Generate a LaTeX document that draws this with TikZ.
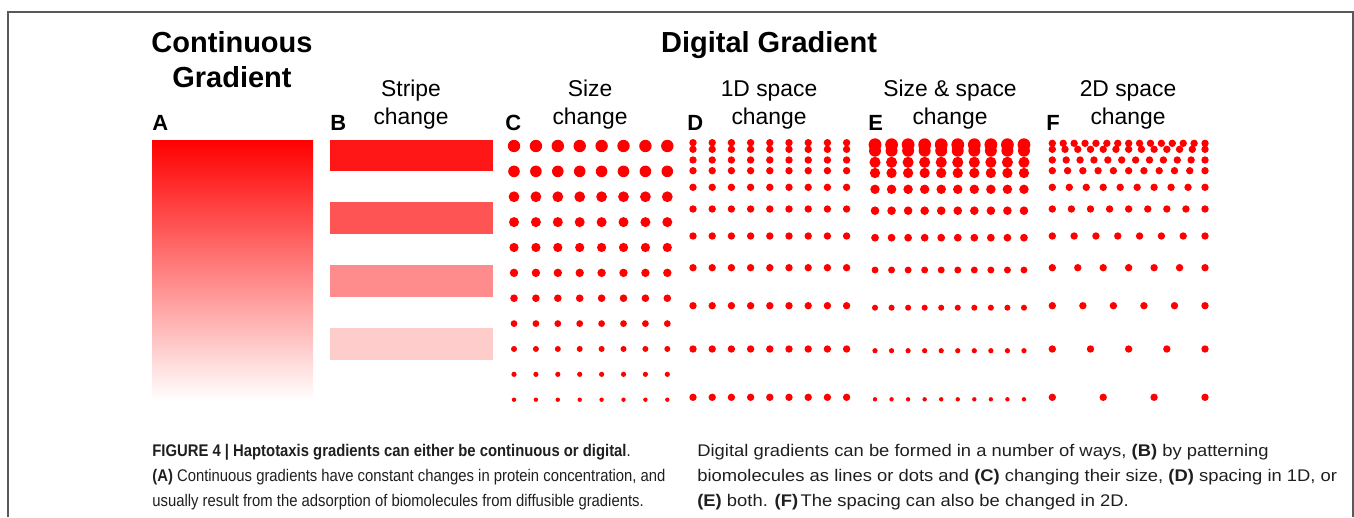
\documentclass[tikz,border=0pt]{standalone}
\usepackage{fontspec}
\setmainfont{Liberation Sans}
\newfontfamily\leftfont[FakeStretch=0.88]{Liberation Sans}
\newfontfamily\rightfont[FakeStretch=1.09]{Liberation Sans}
\usepackage{tikz}
\usetikzlibrary{positioning}

\begin{document}
\begin{tikzpicture}[x=0.02cm, y=-0.02cm,
	title/.style={font=\fontsize{16.5}{20}\selectfont\bfseries, anchor=base},
	sub/.style={font=\fontsize{13}{16}\selectfont, anchor=base},
	letter/.style={font=\fontsize{12.5}{15}\selectfont\bfseries, anchor=base west, inner sep=0pt},
	capl/.style={font=\fontsize{9.6}{10}\leftfont, text=black!88, anchor=base west, inner sep=0pt},
	capr/.style={font=\fontsize{9.6}{10}\rightfont, text=black!88, anchor=base west, inner sep=0pt}]
	\useasboundingbox (0,0) rectangle (1354,517);
	\draw[black!65, line width=0.8pt] (8,517) -- (8,12) -- (1353,12) -- (1353,517);

	\node[title] (cont) at (232,52) {Continuous};
	\node[title] (grad) at (232,88) {Gradient};
	\node[title] (digital) at (769,52) {Digital Gradient};

	\foreach \x/\a/\b in {411/Stripe/change, 590/Size/change, 769/1D space/change,
		950/Size \& space/change, 1128/2D space/change}
		{\node[sub] at (\x,96) {\a};
		 \node[sub] at (\x,124) {\b};}

	\foreach \x/\l in {152/A, 330/B, 505/C, 687/D, 868/E, 1046/F}
		\node[letter] (lab\l) at (\x,131) {\l};

	\shade[top color=red, bottom color=white] (152,140) rectangle (313,400);

	\fill[red!91] (330,140) rectangle (493,171);
	\fill[red!67] (330,202) rectangle (493,234);
	\fill[red!45] (330,265) rectangle (493,297);
	\fill[red!20] (330,328) rectangle (493,360);

	\foreach \i in {0,...,10}
		\foreach \j in {0,...,7}
			\fill[red] ({514+21.9*\j},{146+25.37*\i}) circle[radius={6.2-0.4*\i}];

	\foreach \y in {142.7,149.3,160,170.7,187.3,209,236,267.7,305.7,349,397.3}
		\foreach \j in {0,...,8}
			\fill[red] ({693+19.2*\j},\y) circle[radius=3.7];

	\foreach \y [count=\i from 0] in {144.7,150.7,162.3,173,189.3,210.7,237.7,270,307.7,350.7,399.3}
		\foreach \j in {0,...,9}
			\fill[red] ({875+16.55*\j},\y) circle[radius={6.4-0.42*\i}];

	\foreach \y/\n in {143.3/15,149.3/13,160/12,170.7/11,187.3/10,209/9,236/8,267.7/7,305.7/6,349/5,397.3/4}
		\foreach \j in {1,...,\n}
			\fill[red] ({1052.3+152.7*(\j-1)/(\n-1)},\y) circle[radius=3.7];

	\node[capl] (capA) at (152,456) {\textbf{FIGURE 4 | Haptotaxis gradients can either be continuous or digital}.};
	\node[capl] (capB) at (152,481) {\textbf{(A)} Continuous gradients have constant changes in protein concentration, and};
	\node[capl] (capC) at (152,506) {usually result from the adsorption of biomolecules from diffusible gradients.};

	\node[capr] (capD) at (697,456) {Digital gradients can be formed in a number of ways, \textbf{(B)} by patterning};
	\node[capr] (capE) at (697,481) {biomolecules as lines or dots and \textbf{(C)} changing their size, \textbf{(D)} spacing in 1D, or};
	\node[capr] (capF) at (697,506) {\textbf{(E)} both. \textbf{(F)}\hspace{0.15em}The spacing can also be changed in 2D.};
\end{tikzpicture}
\end{document}
